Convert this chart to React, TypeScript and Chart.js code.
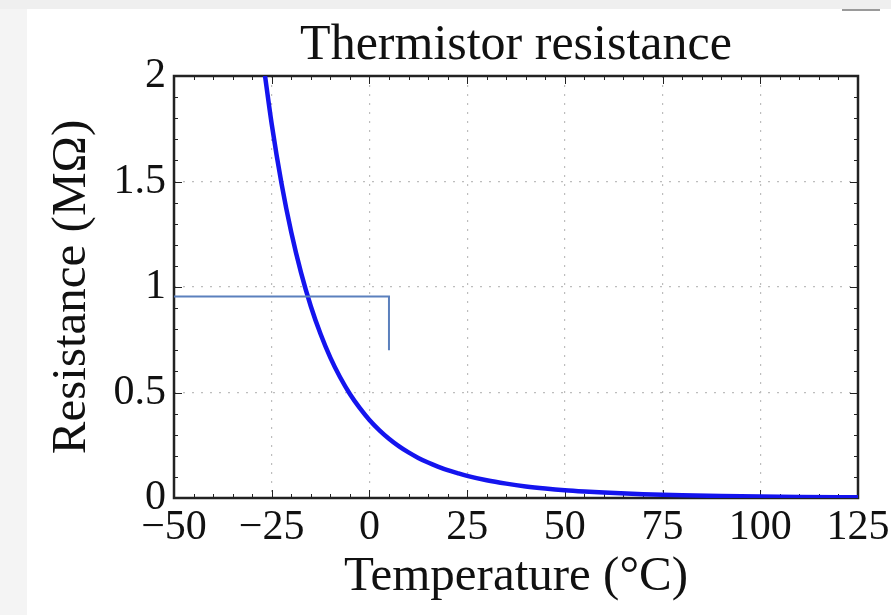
import React, { useEffect, useRef } from "react";
import { Chart, registerables } from "chart.js";

Chart.register(...registerables);

// Temperature (°C) and resistance (MΩ)
const temperatures = [
  -27, -25, -22.5, -20, -17.5, -15, -12.5, -10, -7.5, -5, -2.5, 0, 2.5, 5, 7.5, 10,
  12.5, 15, 17.5, 20, 22.5, 25, 30, 35, 40, 45, 50, 55, 60, 70, 80, 90, 100, 110, 125,
];
const resistances = [
  2.04, 1.772, 1.491, 1.259, 1.068, 0.909, 0.777, 0.665, 0.572, 0.493, 0.427, 0.37, 0.322, 0.281,
  0.246, 0.216, 0.19, 0.168, 0.149, 0.132, 0.118, 0.105, 0.084, 0.068, 0.055, 0.045, 0.037, 0.031,
  0.026, 0.018, 0.013, 0.0095, 0.007, 0.0052, 0.0035,
];

// Marker (steel-blue bracket)
const markerTemps = [-50, 5, 5];
const markerRes = [0.955, 0.955, 0.7];

// Axes
const xMin = -50;
const xMax = 125;
const xStep = 25;
const xMinorStep = 5;
const yMin = 0;
const yMax = 2;
const yStep = 0.5;
const yMinorStep = 0.1;

const titleText = "Thermistor resistance";
const xTitle = "Temperature (\u00B0C)";
const yTitle = "Resistance (M\u03A9)";

const FONT = "'Liberation Serif', 'DejaVu Serif', serif";

function fmtTick(v: number): string {
  const r = Math.round(v * 100) / 100;
  const s = String(Math.abs(r));
  return r < 0 ? "\u2212" + s : s;
}

const backgroundPlugin = {
  id: "bgPlugin",
  beforeDraw(chart: any) {
    const { ctx, width, height } = chart;
    ctx.save();
    ctx.fillStyle = "#ffffff";
    ctx.fillRect(0, 0, width, height);
    ctx.fillStyle = "#f4f4f4";
    ctx.fillRect(0, 0, 27, height);
    ctx.fillStyle = "#efefef";
    ctx.fillRect(0, 0, width, 9);
    ctx.strokeStyle = "#9a9a9a";
    ctx.lineWidth = 2;
    ctx.beginPath();
    ctx.moveTo(842, 10);
    ctx.lineTo(880, 10);
    ctx.stroke();
    ctx.restore();
  },
};

const framePlugin = {
  id: "framePlugin",
  beforeDatasetsDraw(chart: any) {
    const { ctx, chartArea } = chart;
    const xs = chart.scales.x;
    const ys = chart.scales.y;
    const { left, right, top, bottom } = chartArea;
    ctx.save();
    ctx.strokeStyle = "#222222";
    ctx.lineWidth = 1;
    ctx.beginPath();
    const nx = Math.round((xMax - xMin) / xMinorStep);
    const xPer = Math.round(xStep / xMinorStep);
    for (let i = 0; i <= nx; i++) {
      const v = xMin + i * xMinorStep;
      const len = i % xPer === 0 ? 8 : 4;
      const px = Math.round(xs.getPixelForValue(v)) + 0.5;
      ctx.moveTo(px, bottom);
      ctx.lineTo(px, bottom - len);
      ctx.moveTo(px, top);
      ctx.lineTo(px, top + len);
    }
    const ny = Math.round((yMax - yMin) / yMinorStep);
    const yPer = Math.round(yStep / yMinorStep);
    for (let i = 0; i <= ny; i++) {
      const v = yMin + i * yMinorStep;
      const len = i % yPer === 0 ? 8 : 4;
      const py = Math.round(ys.getPixelForValue(v)) + 0.5;
      ctx.moveTo(left, py);
      ctx.lineTo(left + len, py);
      ctx.moveTo(right, py);
      ctx.lineTo(right - len, py);
    }
    ctx.stroke();
    ctx.lineWidth = 2.5;
    ctx.strokeRect(left, top, right - left, bottom - top);
    ctx.restore();
  },
};

export default function App() {
  const canvasRef = useRef<HTMLCanvasElement | null>(null);

  useEffect(() => {
    const canvas = canvasRef.current;
    if (!canvas) return;
    const curve = temperatures.map((t, i) => ({ x: t, y: resistances[i] }));
    const marker = markerTemps.map((t, i) => ({ x: t, y: markerRes[i] }));

    const chart = new Chart(canvas, {
      type: "line",
      data: {
        datasets: [
          {
            label: "marker",
            data: marker,
            borderColor: "#5b80bd",
            borderWidth: 2,
            pointRadius: 0,
            tension: 0,
            fill: false,
          },
          {
            label: "R(T)",
            data: curve,
            borderColor: "#1414ee",
            borderWidth: 4.5,
            pointRadius: 0,
            cubicInterpolationMode: "monotone",
            fill: false,
          },
        ],
      },
      options: {
        responsive: false,
        animation: false,
        layout: { padding: { left: 0, right: 0, top: 0, bottom: 0 } },
        plugins: {
          legend: { display: false },
          tooltip: { enabled: false },
          title: {
            display: true,
            fullSize: false,
            text: titleText,
            color: "#111111",
            font: { family: FONT, size: 50, weight: "normal", lineHeight: 1.1 },
            padding: { top: 18.5, bottom: 2.5 },
          },
        },
        scales: {
          x: {
            type: "linear",
            min: xMin,
            max: xMax,
            afterFit: (s: any) => {
              s.height = 117;
              s.paddingRight = 33;
              s.paddingLeft = 0;
            },
            ticks: {
              stepSize: xStep,
              color: "#111111",
              padding: 5,
              maxRotation: 0,
              font: { family: FONT, size: 42 },
              callback: (v: any) => fmtTick(Number(v)),
            },
            grid: { color: "#bdbdbd", lineWidth: 1.2, drawTicks: false },
            border: { display: false, dash: [2, 7] },
            title: {
              display: true,
              text: xTitle,
              color: "#111111",
              font: { family: FONT, size: 49, lineHeight: 1.2 },
              padding: { top: 0, bottom: 8 },
            },
          },
          y: {
            type: "linear",
            min: yMin,
            max: yMax,
            afterFit: (s: any) => {
              s.width = 174;
              s.paddingTop = 0;
              s.paddingBottom = 0;
            },
            ticks: {
              stepSize: yStep,
              color: "#111111",
              padding: 8,
              font: { family: FONT, size: 42 },
              callback: (v: any) => fmtTick(Number(v)),
            },
            grid: { color: "#bdbdbd", lineWidth: 1.2, drawTicks: false },
            border: { display: false, dash: [2, 7] },
            title: {
              display: true,
              text: yTitle,
              color: "#111111",
              font: { family: FONT, size: 49, lineHeight: 1.2 },
              padding: { top: 43, bottom: 0 },
            },
          },
        },
      },
      plugins: [backgroundPlugin, framePlugin],
    } as any);

    return () => chart.destroy();
  }, []);

  return (
    <div style={{ position: "fixed", left: 0, top: 0, width: 891, height: 615, background: "#fff" }}>
      <canvas ref={canvasRef} width={891} height={615} style={{ display: "block" }} />
    </div>
  );
}
